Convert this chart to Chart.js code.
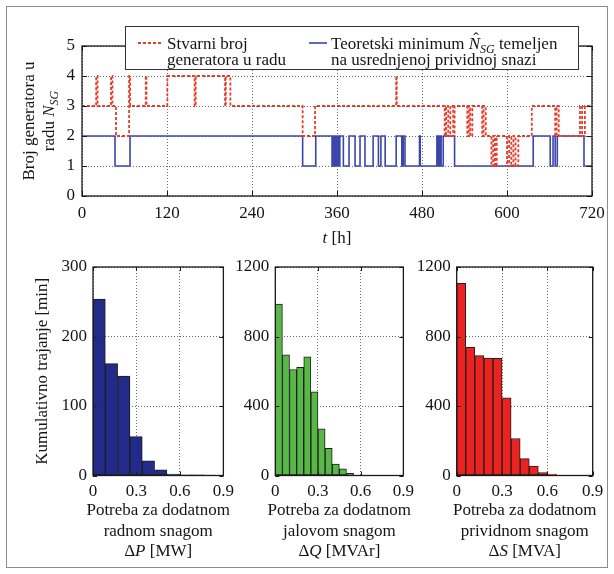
<!DOCTYPE html>
<html>
<head>
<meta charset="utf-8">
<script src="https://cdn.jsdelivr.net/npm/chart.js@4.4.1/dist/chart.umd.min.js"></script>
<style>
  body { margin: 0; background: #fff; }
  #page { position: relative; width: 614px; height: 574px; overflow: hidden; }
  #frame { position: absolute; left: 6px; top: 6px; width: 600px; height: 560px; border: 1px solid #8c8c8c; }
  canvas { position: absolute; }
</style>
</head>
<body>
<div id="page">
  <div id="frame"></div>
  <canvas id="gen" width="614" height="250" style="left:0;top:0"></canvas>
  <canvas id="hp" width="240" height="324" style="left:0;top:250px"></canvas>
  <canvas id="hq" width="200" height="324" style="left:220px;top:250px"></canvas>
  <canvas id="hs" width="209" height="324" style="left:405px;top:250px"></canvas>
</div>
<script>
// hour at which the count changes, and the count held from that hour on
var redT = [0, 20, 22, 41, 43, 48, 66.5, 68, 90, 91, 120.5, 159, 160.5, 202, 203, 209.5,
            311.5, 329, 443.5, 444.3, 512, 514, 517, 520, 524, 526, 544, 546, 548, 551,
            565, 567, 570, 578, 580.5, 583, 585.5, 600, 603, 606, 609, 612, 616,
            635, 668, 670, 673, 703, 706, 710, 720];
var redN = [3, 4, 3, 4, 3, 2, 4, 3, 4, 3, 4, 3, 4, 3, 4, 3,
            2, 3, 4, 3, 2, 3, 2, 3, 2, 3, 2, 3, 2, 3,
            2, 3, 2, 1, 2, 1, 2, 1, 2, 1, 2, 1, 2,
            3, 2, 3, 2, 3, 2, 3, 3];
var blueT = [0, 46.6, 67.8, 311.5, 330, 353, 354, 355, 356, 357, 358, 359, 360, 361, 362, 363,
             364, 369, 377, 385.5, 392.5, 399.5, 411, 418.5, 422, 428, 443.5, 451.5, 453.5, 456,
             476.5, 477.5, 501, 503, 505, 507, 510, 526, 637, 661, 665, 668, 671, 708.7, 720];
var blueN = [2, 1, 2, 1, 2, 1, 2, 1, 2, 1, 2, 1, 2, 1, 2, 1,
             2, 1, 2, 1, 2, 1, 2, 1, 2, 1, 2, 1, 2, 1,
             2, 1, 2, 1, 2, 1, 2, 1, 2, 1, 2, 1, 2, 1, 1];
var hourTicks = [0, 120, 240, 360, 480, 600, 720];
var hourLabels = ['0', '120', '240', '360', '480', '600', '720'];
var countTicks = [0, 1, 2, 3, 4, 5];
var countLabels = ['0', '1', '2', '3', '4', '5'];

// histogram bin heights [min], bins start at 0
var dpVals = [254, 161, 143, 56, 21, 8, 2, 1, 1, 0.5];
var dpBin = 0.085;
var dqVals = [987, 695, 610, 622, 683, 482, 268, 156, 66, 38, 12];
var dqBin = 0.05;
var dsVals = [1106, 738, 690, 676, 674, 447, 213, 97, 54, 17, 8];
var dsBin = 0.06;
var powerTicks = [0, 0.3, 0.6, 0.9];
var powerLabels = ['0', '0.3', '0.6', '0.9'];
var dpTicks = [0, 100, 200, 300];
var dpLabels = ['0', '100', '200', '300'];
var dqsTicks = [0, 400, 800, 1200];
var dqsLabels = ['0', '400', '800', '1200'];

var FAM = 'Liberation Serif';
var F = '17px "' + FAM + '"';
var FI = 'italic 17px "' + FAM + '"';
var FSUB = 'italic 12px "' + FAM + '"';
var INK = '#151515';

Chart.defaults.font.family = FAM;
Chart.defaults.font.size = 17;
Chart.defaults.color = INK;

// draws a row of differently styled pieces; returns start x of each piece
function runs(ctx, parts, x, y, align) {
    var total = 0, starts = [];
    parts.forEach(function (p) { ctx.font = p[1]; total += ctx.measureText(p[0]).width; });
    var cx = align === 'center' ? x - total / 2 : (align === 'right' ? x - total : x);
    ctx.textAlign = 'left';
    ctx.textBaseline = 'alphabetic';
    parts.forEach(function (p) {
        ctx.font = p[1];
        starts.push(cx);
        ctx.fillText(p[0], cx, y + (p[2] || 0));
        cx += ctx.measureText(p[0]).width;
    });
    return starts;
}

function pts(t, n) {
    return t.map(function (v, i) { return {x: v, y: n[i]}; });
}

function fixedTicks(list) {
    return function (s) { s.ticks = list.map(function (v) { return {value: v}; }); };
}

function labelsFrom(list) {
    return function (v, i) { return list[i]; };
}

// box around the plot and short inward tick marks
var boxPlugin = {
    id: 'box',
    afterDatasetsDraw: function (chart, args, o) {
        var a = chart.chartArea, ctx = chart.ctx, xs = chart.scales.x, ys = chart.scales.y;
        ctx.save();
        ctx.strokeStyle = '#1a1a1a';
        ctx.lineWidth = 1;
        ctx.beginPath();
        xs.ticks.forEach(function (t) {
            var p = Math.round(xs.getPixelForValue(t.value)) + 0.5;
            ctx.moveTo(p, a.bottom); ctx.lineTo(p, a.bottom - o.len);
            ctx.moveTo(p, a.top); ctx.lineTo(p, a.top + o.len);
        });
        ys.ticks.forEach(function (t) {
            var p = Math.round(ys.getPixelForValue(t.value)) + 0.5;
            ctx.moveTo(a.left, p); ctx.lineTo(a.left + o.len, p);
            ctx.moveTo(a.right, p); ctx.lineTo(a.right - o.len, p);
        });
        ctx.stroke();
        ctx.lineWidth = 1.3;
        ctx.strokeRect(a.left, a.top, a.right - a.left, a.bottom - a.top);
        ctx.restore();
    }
};

var genText = {
    id: 'genText',
    afterDraw: function (chart) {
        var ctx = chart.ctx, a = chart.chartArea, ds = chart.data.datasets;
        ctx.save();
        // legend
        ctx.fillStyle = '#fff';
        ctx.fillRect(125, 26, 453, 43);
        ctx.strokeStyle = '#333';
        ctx.lineWidth = 1;
        ctx.strokeRect(125.5, 26.5, 453, 43);
        ctx.lineWidth = ds[0].borderWidth;
        ctx.strokeStyle = ds[0].borderColor;
        ctx.setLineDash(ds[0].borderDash);
        ctx.beginPath(); ctx.moveTo(138, 43); ctx.lineTo(162, 43); ctx.stroke();
        ctx.setLineDash([]);
        ctx.lineWidth = ds[1].borderWidth;
        ctx.strokeStyle = ds[1].borderColor;
        ctx.beginPath(); ctx.moveTo(309, 43); ctx.lineTo(327, 43); ctx.stroke();
        ctx.fillStyle = INK;
        runs(ctx, [['Stvarni broj', F]], 167, 49, 'left');
        runs(ctx, [['generatora u radu', F]], 167, 65, 'left');
        var s = runs(ctx, [['Teoretski minimum ', F], ['N', FI], ['SG', FSUB, 4], [' temeljen', F]], 331, 49, 'left');
        ctx.font = F;
        ctx.textAlign = 'center';
        ctx.fillText('\u02C6', s[1] + 7.5, 44);
        runs(ctx, [['na usrednjenoj prividnoj snazi', F]], 331, 65, 'left');
        // axis titles
        runs(ctx, [['t', FI], [' [h]', F]], (a.left + a.right) / 2, 243, 'center');
        ctx.translate(28, (a.top + a.bottom) / 2);
        ctx.rotate(-Math.PI / 2);
        runs(ctx, [['Broj generatora u', F]], 0, 6, 'center');
        runs(ctx, [['radu ', F], ['N', FI], ['SG', FSUB, 4]], 0, 26, 'center');
        ctx.restore();
    }
};

var histText = {
    id: 'histText',
    afterDraw: function (chart, args, o) {
        var ctx = chart.ctx, a = chart.chartArea, cx = (a.left + a.right) / 2;
        ctx.save();
        ctx.fillStyle = INK;
        runs(ctx, [['Potreba za dodatnom', F]], cx, 265, 'center');
        runs(ctx, [[o.kind, F]], cx, 285.5, 'center');
        runs(ctx, [['\u0394', F], [o.sym, FI], [' [' + o.unit + ']', F]], cx, 306, 'center');
        if (o.ytitle) {
            ctx.translate(41, (a.top + a.bottom) / 2);
            ctx.rotate(-Math.PI / 2);
            runs(ctx, [[o.ytitle, F]], 0, 6, 'center');
        }
        ctx.restore();
    }
};

new Chart(document.getElementById('gen'), {
    type: 'line',
    data: {
        datasets: [{
            label: 'Stvarni broj generatora u radu',
            data: pts(redT, redN),
            borderColor: '#e83b28',
            borderWidth: 1.8,
            borderDash: [3, 2],
            stepped: 'before',
            pointRadius: 0
        }, {
            label: 'Teoretski minimum',
            data: pts(blueT, blueN),
            borderColor: '#3c46aa',
            borderWidth: 1.6,
            stepped: 'before',
            pointRadius: 0
        }]
    },
    options: {
        responsive: false,
        animation: false,
        devicePixelRatio: 1,
        layout: {padding: {left: 0, right: 22, top: 46, bottom: 0}},
        plugins: {legend: {display: false}, tooltip: {enabled: false}, box: {len: 5}},
        scales: {
            x: {
                type: 'linear', min: 0, max: 720,
                afterBuildTicks: fixedTicks(hourTicks),
                afterFit: function (s) { s.height = 54; },
                grid: {color: '#6a6a6a', drawTicks: false},
                border: {display: false, dash: [1, 2]},
                ticks: {padding: 7, maxRotation: 0, autoSkip: false, callback: labelsFrom(hourLabels)}
            },
            y: {
                min: 0, max: 5,
                afterBuildTicks: fixedTicks(countTicks),
                afterFit: function (s) { s.width = 82; },
                grid: {color: '#6a6a6a', drawTicks: false},
                border: {display: false, dash: [1, 2]},
                ticks: {padding: 7, autoSkip: false, callback: labelsFrom(countLabels)}
            }
        }
    },
    plugins: [boxPlugin, genText]
});

function histogram(id, vals, bin, color, yTicks, yLabels, yWidth, padRight, text) {
    return new Chart(document.getElementById(id), {
        type: 'bar',
        data: {
            datasets: [{
                data: vals.map(function (v, i) { return {x: bin * (i + 0.5), y: v}; }),
                backgroundColor: color,
                borderColor: '#1e1e1e',
                borderWidth: 1,
                borderSkipped: false,
                barPercentage: 1,
                categoryPercentage: 1
            }]
        },
        options: {
            responsive: false,
            animation: false,
            devicePixelRatio: 1,
            layout: {padding: {left: 0, right: padRight, top: 17, bottom: 0}},
            plugins: {legend: {display: false}, tooltip: {enabled: false}, box: {len: 4}, histText: text},
            scales: {
                x: {
                    type: 'linear', min: 0, max: 0.9, offset: false,
                    afterBuildTicks: fixedTicks(powerTicks),
                    afterFit: function (s) { s.height = 98.5; },
                    grid: {color: '#6a6a6a', drawTicks: false, offset: false},
                    border: {display: false, dash: [1, 2]},
                    ticks: {padding: 6, maxRotation: 0, autoSkip: false, callback: labelsFrom(powerLabels)}
                },
                y: {
                    min: 0, max: yTicks[yTicks.length - 1],
                    afterBuildTicks: fixedTicks(yTicks),
                    afterFit: function (s) { s.width = yWidth; },
                    grid: {color: '#6a6a6a', drawTicks: false},
                    border: {display: false, dash: [1, 2]},
                    ticks: {padding: 6, autoSkip: false, callback: labelsFrom(yLabels)}
                }
            }
        },
        plugins: [boxPlugin, histText]
    });
}

histogram('hp', dpVals, dpBin, '#232b8a', dpTicks, dpLabels, 93, 10.5,
    {kind: 'radnom snagom', sym: 'P', unit: 'MW', ytitle: 'Kumulativno trajanje [min]'});
histogram('hq', dqVals, dqBin, '#58b847', dqsTicks, dqsLabels, 55.3, 10.6,
    {kind: 'jalovom snagom', sym: 'Q', unit: 'MVAr'});
histogram('hs', dsVals, dsBin, '#ea2220', dqsTicks, dqsLabels, 51.7, 21.3,
    {kind: 'prividnom snagom', sym: 'S', unit: 'MVA'});
</script>
</body>
</html>
